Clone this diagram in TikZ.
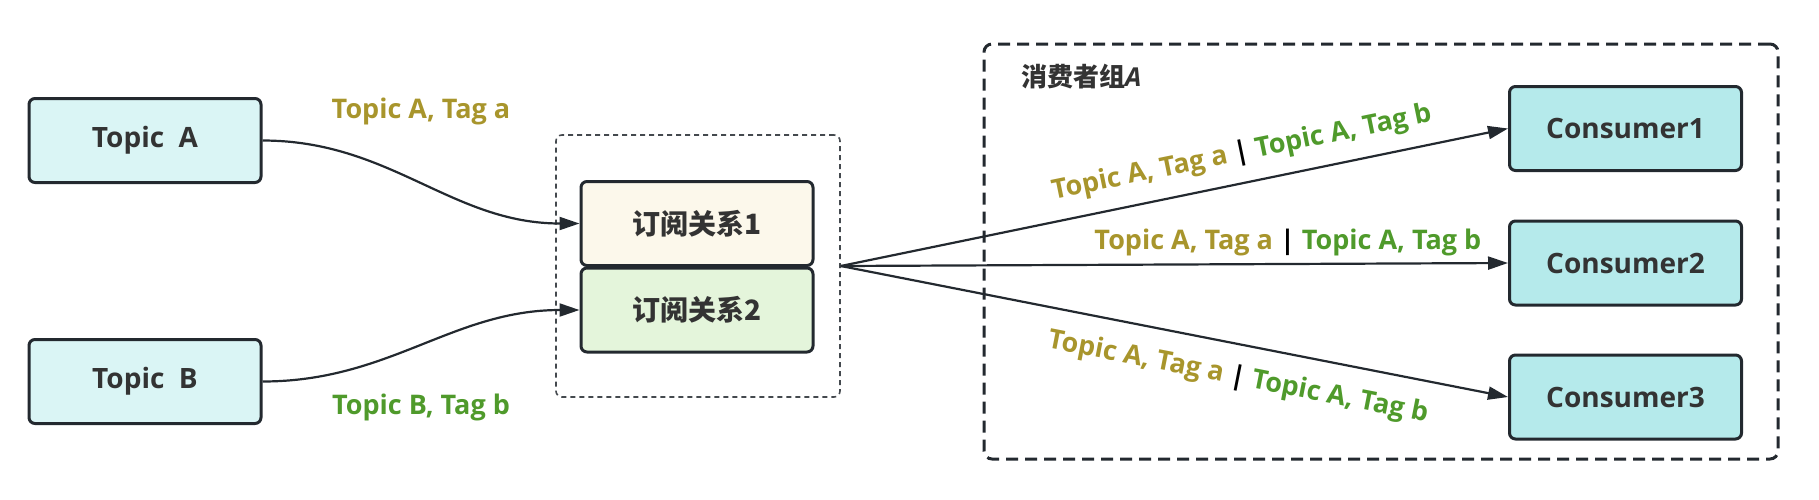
\documentclass[tikz,border=0pt]{standalone}
\usepackage{fontspec}
\setmainfont{Open Sans}
\newfontfamily\cjk{Noto Sans CJK SC}
\usetikzlibrary{arrows.meta}
\definecolor{topicfill}{HTML}{DAF5F5}
\definecolor{consfill}{HTML}{B5EAEB}
\definecolor{subfilla}{HTML}{FCF8EB}
\definecolor{subfillb}{HTML}{E4F5DB}
\definecolor{edge}{HTML}{23292F}
\definecolor{ink}{HTML}{333333}
\definecolor{taga}{HTML}{A8952C}
\definecolor{tagb}{HTML}{4F9A2B}
\newcommand\tagpair{{\color{taga}Topic A, Tag a} {\color{black}|} {\color{tagb}Topic A, Tag b}}

\begin{document}
\begin{tikzpicture}[x=0.5pt,y=-0.5pt,
  box/.style={draw=edge,line width=1.5pt,rounded corners=3pt,minimum width=116pt,minimum height=42pt,text=ink,font=\bfseries\fontsize{14}{16}\selectfont},
  link/.style={draw=edge,line width=1.1pt,-{Triangle[length=10pt,width=6.5pt]}},
  tag/.style={font=\bfseries\fontsize{13.5}{15}\selectfont}]
\useasboundingbox (0,0) rectangle (1819,499);
% Consumer group frame
\node[draw=edge,line width=1.5pt,dash pattern=on 6pt off 3.5pt,rounded corners=4pt,minimum width=397pt,minimum height=207.5pt] (group) at (1381,251.5) {};
\node[anchor=west,text=ink,font=\cjk\bfseries\fontsize{13}{15}\selectfont] (grouplabel) at (1014,77) {消费者组{\normalfont\bfseries\itshape A}};
% Topics
\node[box,fill=topicfill] (ta) at (145,140.5) {Topic\ \ A};
\node[box,fill=topicfill] (tb) at (145,381.5) {Topic\ \ B};
% Subscriptions
\node[draw=edge!85,line width=0.8pt,dash pattern=on 2.5pt off 2pt,rounded corners=3pt,minimum width=142pt,minimum height=131pt] (subs) at (698,266) {};
\node[box,fill=subfilla,font=\cjk\bfseries\fontsize{14}{16}\selectfont] (s1) at (697,223.5) {订阅关系1};
\node[box,fill=subfillb,font=\cjk\bfseries\fontsize{14}{16}\selectfont] (s2) at (697,310) {订阅关系2};
% Consumers
\node[box,fill=consfill] (c1) at (1625.5,128.5) {Consumer1};
\node[box,fill=consfill] (c2) at (1625.5,263) {Consumer2};
\node[box,fill=consfill] (c3) at (1625.5,397) {Consumer3};
% Topic to subscription curves
\draw[link] (ta.east) to[out=0,in=180] (s1.west);
\draw[link] (tb.east) to[out=0,in=180] (s2.west);
\node[tag,text=taga] (laba) at (421,111) {Topic A, Tag a};
\node[tag,text=tagb] (labb) at (421,407) {Topic B, Tag b};
% Subscription to consumers
\draw[link] (subs.east) -- node[tag,pos=0.61,sloped,above=4pt] {\tagpair} (c1.west);
\draw[link] (subs.east) -- node[tag,pos=0.67,above=0pt] {\tagpair} (c2.west);
\draw[link] (subs.east) -- node[tag,pos=0.605,sloped,below=6pt] {\tagpair} (c3.west);
\end{tikzpicture}
\end{document}
